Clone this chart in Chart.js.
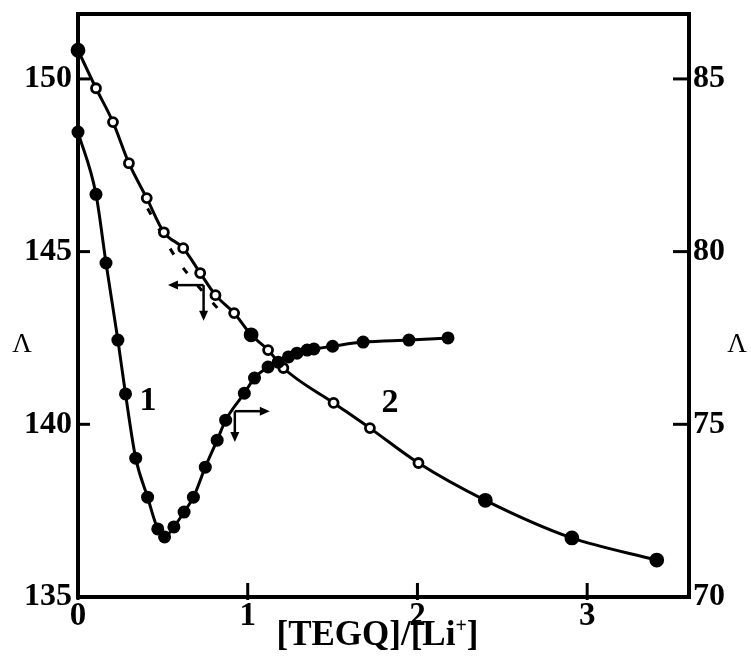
<!DOCTYPE html>
<html>
<head>
<meta charset="utf-8">
<script src="https://cdn.jsdelivr.net/npm/chart.js@4.4.1/dist/chart.umd.min.js"></script>
<style>
  html, body { margin:0; padding:0; background:#fff; }
  #wrap { width:751px; height:669px; }
</style>
</head>
<body>
<div id="wrap"><canvas id="chart" width="751" height="669"></canvas></div>
<script>
// curve 1 (filled circles, read on the right axis)
const x1 = [0, 0.106, 0.165, 0.235, 0.28, 0.34, 0.41, 0.47, 0.51, 0.565, 0.625, 0.68, 0.75, 0.82, 0.87, 0.98, 1.04, 1.12, 1.18, 1.24, 1.29, 1.35, 1.39, 1.5, 1.68, 1.95, 2.18];
const y1 = [83.46, 81.66, 79.67, 77.44, 75.88, 74.02, 72.89, 71.97, 71.74, 72.03, 72.46, 72.89, 73.76, 74.54, 75.12, 75.9, 76.34, 76.66, 76.8, 76.95, 77.06, 77.15, 77.18, 77.26, 77.38, 77.44, 77.5];

// curve 2 (open circles, read on the left axis)
const x2 = [0, 0.106, 0.206, 0.3, 0.405, 0.506, 0.62, 0.72, 0.81, 0.92, 1.02, 1.12, 1.21, 1.506, 1.72, 2.006, 2.4, 2.91, 3.41];
const y2 = [150.83, 149.73, 148.75, 147.56, 146.55, 145.56, 145.1, 144.38, 143.74, 143.22, 142.59, 142.15, 141.63, 140.62, 139.89, 138.88, 137.8, 136.71, 136.07];
const filled2 = [1, 0, 0, 0, 0, 0, 0, 0, 0, 0, 1, 0, 0, 0, 0, 0, 1, 1, 1];

// short dashed trace beside curve 2
const xd = [0.41, 0.58, 0.85];
const yd = [146.25, 144.8, 143.2];

const xTicks = [0, 1, 2, 3];
const leftTicks = [135, 140, 145, 150];
const rightTicks = [70, 75, 80, 85];

// arrows: start, end, axis
const arrows = [
  {axis:'yL', from:[0.74, 144.03], to:[0.53, 144.03]},
  {axis:'yL', from:[0.74, 144.03], to:[0.74, 143.0]},
  {axis:'yR', from:[0.924, 75.38], to:[1.13, 75.38]},
  {axis:'yR', from:[0.924, 75.38], to:[0.924, 74.49]}
];

const serif = '"Liberation Serif", "Times New Roman", serif';

function pts(xs, ys){
  return xs.map((x,i)=>({x:x, y:ys[i]}));
}

function noPad(s){
  s.paddingTop = 0; s.paddingBottom = 0; s.paddingLeft = 0; s.paddingRight = 0;
}

const decor = {
  id:'decor',
  afterDraw(c){
    const ctx = c.ctx, a = c.chartArea;
    const sx = c.scales.x, sl = c.scales.yL, sr = c.scales.yR;
    ctx.save();
    ctx.strokeStyle = '#000';
    ctx.fillStyle = '#000';
    ctx.lineCap = 'butt';

    // frame
    ctx.lineWidth = 4;
    ctx.strokeRect(a.left, a.top, a.right - a.left, a.bottom - a.top);

    // inward ticks
    ctx.lineWidth = 3;
    leftTicks.forEach(v=>{
      const y = sl.getPixelForValue(v);
      ctx.beginPath(); ctx.moveTo(a.left, y); ctx.lineTo(a.left + 12, y); ctx.stroke();
    });
    rightTicks.forEach(v=>{
      const y = sr.getPixelForValue(v);
      ctx.beginPath(); ctx.moveTo(a.right, y); ctx.lineTo(a.right - 16, y); ctx.stroke();
    });
    xTicks.forEach(v=>{
      const x = sx.getPixelForValue(v);
      ctx.beginPath(); ctx.moveTo(x, a.bottom + 3); ctx.lineTo(x, a.bottom - 14); ctx.stroke();
    });

    // arrows
    ctx.lineWidth = 2.5;
    arrows.forEach(ar=>{
      const sy = c.scales[ar.axis];
      const x0 = sx.getPixelForValue(ar.from[0]), y0 = sy.getPixelForValue(ar.from[1]);
      const x1p = sx.getPixelForValue(ar.to[0]), y1p = sy.getPixelForValue(ar.to[1]);
      const ang = Math.atan2(y1p - y0, x1p - x0);
      ctx.beginPath(); ctx.moveTo(x0, y0); ctx.lineTo(x1p - 6*Math.cos(ang), y1p - 6*Math.sin(ang)); ctx.stroke();
      ctx.beginPath();
      ctx.moveTo(x1p, y1p);
      ctx.lineTo(x1p - 10*Math.cos(ang) + 4.5*Math.sin(ang), y1p - 10*Math.sin(ang) - 4.5*Math.cos(ang));
      ctx.lineTo(x1p - 10*Math.cos(ang) - 4.5*Math.sin(ang), y1p - 10*Math.sin(ang) + 4.5*Math.cos(ang));
      ctx.closePath(); ctx.fill();
    });

    // curve labels
    ctx.font = 'bold 34px ' + serif;
    ctx.textAlign = 'center';
    ctx.textBaseline = 'middle';
    ctx.fillText('1', 148, 401);
    ctx.fillText('2', 390, 403);

    // axis titles
    ctx.font = '27px ' + serif;
    ctx.fillText('\u039B', 22, 345);
    ctx.fillText('\u039B', 737, 345);

    // x title with superscript +
    ctx.textBaseline = 'alphabetic';
    const t1 = '[TEGQ]/[Li', t3 = ']';
    ctx.font = 'bold 35px ' + serif;
    const w1 = ctx.measureText(t1).width, w3 = ctx.measureText(t3).width;
    ctx.font = 'bold 20px ' + serif;
    const w2 = ctx.measureText('+').width;
    let x = (a.left + a.right) / 2 - 6 - (w1 + w2 + w3) / 2;
    const base = 645;
    ctx.textAlign = 'left';
    ctx.font = 'bold 35px ' + serif;
    ctx.fillText(t1, x, base); x += w1;
    ctx.font = 'bold 20px ' + serif;
    ctx.fillText('+', x, base - 13); x += w2;
    ctx.font = 'bold 35px ' + serif;
    ctx.fillText(t3, x, base);
    ctx.restore();
  }
};

const chart = new Chart(document.getElementById('chart'), {
  type:'line',
  data:{
    datasets:[
      {
        label:'1',
        data: pts(x1, y1),
        yAxisID:'yR',
        borderColor:'#000',
        borderWidth:3,
        pointRadius:6.5,
        pointBackgroundColor:'#000',
        pointBorderColor:'#000',
        pointBorderWidth:0,
        cubicInterpolationMode:'monotone',
        clip:false
      },
      {
        label:'2',
        data: pts(x2, y2),
        yAxisID:'yL',
        borderColor:'#000',
        borderWidth:3,
        pointRadius: filled2.map(f=> f ? 6 : 4.5),
        pointBackgroundColor: filled2.map(f=> f ? '#000' : '#fff'),
        pointBorderColor:'#000',
        pointBorderWidth:2.8,
        cubicInterpolationMode:'monotone',
        clip:false
      },
      {
        label:'2 dashed',
        data: pts(xd, yd),
        yAxisID:'yL',
        borderColor:'#000',
        borderWidth:3,
        borderDash:[7,16],
        pointRadius:0,
        cubicInterpolationMode:'monotone',
        clip:false
      }
    ]
  },
  options:{
    responsive:false,
    animation:false,
    devicePixelRatio:1,
    layout:{ padding:{ top:14, left:0, right:0, bottom:0 } },
    plugins:{ legend:{display:false}, tooltip:{enabled:false} },
    scales:{
      x:{
        type:'linear',
        min:0, max:3.6,
        afterBuildTicks: s=>{ s.ticks = xTicks.map(v=>({value:v})); },
        afterFit: s=>{ s.height = 72; noPad(s); },
        grid:{ display:false, drawTicks:false },
        border:{ display:false },
        ticks:{ color:'#000', padding:0, font:{ family:serif, size:33, weight:'bold' } }
      },
      yL:{
        type:'linear',
        position:'left',
        min:135, max:151.88,
        afterBuildTicks: s=>{ s.ticks = leftTicks.map(v=>({value:v})); },
        afterFit: s=>{ s.width = 78; noPad(s); },
        grid:{ display:false, drawTicks:false },
        border:{ display:false },
        ticks:{ color:'#000', padding:6, font:{ family:serif, size:32, weight:'bold' } }
      },
      yR:{
        type:'linear',
        position:'right',
        min:70, max:86.88,
        afterBuildTicks: s=>{ s.ticks = rightTicks.map(v=>({value:v})); },
        afterFit: s=>{ s.width = 62; noPad(s); },
        grid:{ display:false, drawTicks:false },
        border:{ display:false },
        ticks:{ color:'#000', padding:4, font:{ family:serif, size:32, weight:'bold' } }
      }
    }
  },
  plugins:[decor]
});
</script>
</body>
</html>
